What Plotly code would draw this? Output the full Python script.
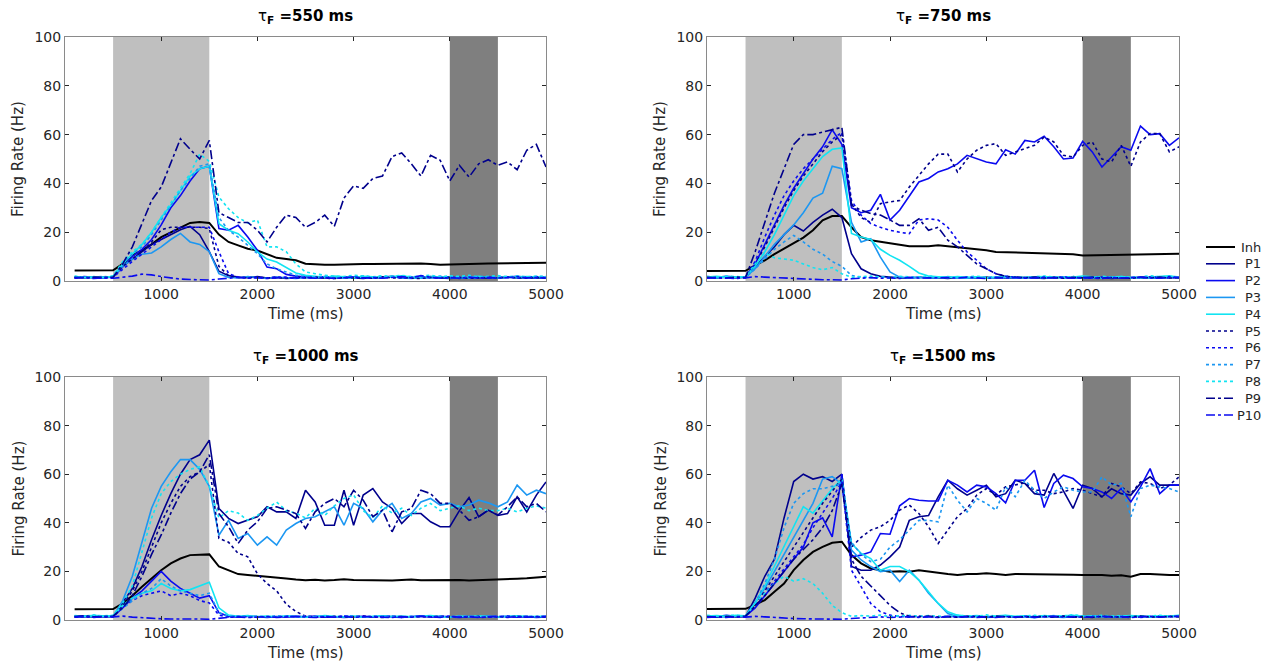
import plotly.graph_objects as go

# Time axis (ms): population rates binned every 100 ms
t = list(range(100, 5001, 100))

panel_titles = ["550", "750", "1000", "1500"]
series_names = ["Inh", "P1", "P2", "P3", "P4", "P5", "P6", "P7", "P8", "P9", "P10"]

# ---- tau_F = 550 ms ----
a_inh = [4.3,4.3,4.4,4.4,4.4, 7.0,10.5,12.5,15.0,18.0,20.0,22.0,23.8,24.2,23.8, 19.0,16.0,14.6,13.2,12.5,11.0,9.5,9.0,8.5,7.1, 6.8,6.7,6.7,6.9,6.8,7.0,7.0,7.1,7.2,7.3, 7.1,7.2,7.0,6.7,6.8,7.0,7.2,7.1,7.2,7.3,7.3,7.4,7.5,7.5,7.5]
a_p1 = [1.5,1.3,1.6,1.4,1.8, 6,9,12,15,17,19,21,22.4,19,12, 4,2.2,1.6,1.4,1.8, 1.2,1.5,1.0,1.3,1.6, 1.1,1.4,1.2,1.7,1.3, 1.0,1.5,1.2,1.8,1.4, 1.1,1.3,1.6,1.2,1.0, 1.4,1.2,1.5,1.1,1.3, 1.6,1.2,1.4,1.1,1.3]
a_p2 = [1.2,1.8,1.5,1.3,1.6, 6,10,13,17,23,30,35,41,46,47, 21.5,20.8,22.8,18,12.6, 5.7,5,2.7,2,1.6, 1.3,1.8,1.5,1.2,1.7, 1.4,1.1,1.6,1.9,1.3, 1.5,1.2,1.8,1.4,1.6, 1.1,1.5,1.3,1.7,1.2, 1.4,1.9,1.5,1.3,1.6]
a_p3 = [1.6,1.4,1.2,1.7,1.5, 6,9,11,11.5,14,17,19.5,16,15,12, 3,1.5,1.2,1.8,1.4, 1.1,1.6,1.3,1.0,1.5, 1.2,1.7,1.4,1.1,1.3, 1.6,1.2,1.5,1.8,1.3, 1.0,1.4,1.2,1.6,1.3, 1.5,1.1,1.4,1.7,1.2, 1.3,1.6,1.2,1.5,1.4]
a_p4 = [1.8,1.5,1.7,1.4,1.9, 7,11,15,20,26,31,37,43,46,47, 23.5,20.8,19.4,16,11.9, 9,7.8,5.7,3.3,2.3, 1.8,1.5,2.0,1.6,1.4, 1.9,1.7,1.5,1.8,2.1, 1.6,1.4,1.8,1.5,1.7, 1.3,1.6,1.9,1.5,1.4, 1.7,1.5,1.8,1.6,1.5]
a_p5 = [1.4,1.6,1.3,1.5,1.7, 6,9,12,16,21,22,22,22,22,21.5, 6,2.2,1.5,1.3,1.6, 1.2,1.4,1.1,1.5,1.3, 1.6,1.2,1.0,1.4,1.3, 1.5,1.1,1.7,1.2,1.4, 1.3,1.0,1.5,1.2,1.6, 1.4,1.1,1.3,1.5,1.2, 1.6,1.3,1.1,1.4,1.2]
a_p6 = [1.3,1.7,1.5,1.2,1.6, 5,8,11,14,17,20,22,22,22,22, 12,3,1.6,1.3,1.5, 1.2,1.7,1.4,1.1,1.5, 1.3,1.8,1.2,1.5,1.6, 1.1,1.4,1.3,1.7,1.2, 1.5,1.9,1.3,1.4,1.2, 1.6,1.3,1.5,1.1,1.4, 1.7,1.2,1.5,1.8,1.3]
a_p7 = [1.7,1.4,1.6,1.9,1.5, 7,11,14,19,25,31,37,42,47,48, 26,20.8,18,14.6,11.2, 7,5,3.7,2.3,1.8, 1.5,2.0,1.7,1.4,1.8, 2.1,1.6,1.5,1.9,1.7, 1.4,1.8,1.6,2.0,1.5, 1.7,1.4,1.9,1.6,1.5, 1.8,1.6,1.4,1.7,1.9]
a_p8 = [2.0,1.6,1.8,1.5,2.1, 8,12,15,20,26,32,38,44,52,49, 34.4,29.6,26,23.8,25, 14,14,12,7,3.7, 3,2.3,2.0,1.8,2.4, 2.1,1.7,2.2,1.9,2.3, 1.8,2.0,2.4,1.7,2.1, 1.9,2.3,1.6,2.0,2.2, 1.8,2.1,1.7,2.0,1.9]
a_p9 = [1.5,1.3,1.6,1.4,1.5, 7,14,23.5,33,38.5,48,58.3,54,50,57.6, 28,26,24,24,20.8, 16,22,27,26,22, 24,27,22.4,34,39, 38,42,43,51,52.5, 48,43,51.5,49.5,41, 47.4,42.6,48,49.7,47.4, 48.8,45.6,53.6,56,46.7]
a_p10 = [1.2,1.5,1.0,1.3,1.1, 1.5,2.0,2.8,2.5,1.8,1.2,0.8,0.6,0.5,0.4, 0.8,1.2,1.5,1.1,1.4, 1.0,1.3,1.6,1.2,1.5, 1.1,1.4,1.0,1.3,1.7, 1.2,1.5,1.1,1.4,1.8, 1.3,2.2,1.5,1.2,1.4, 1.1,1.6,1.3,1.5,1.2, 1.4,1.8,1.3,1.5,1.2]

# ---- tau_F = 750 ms ----
b_inh = [4.1,4.1,4.1,4.2,4.2, 6.4,8.5,11,13.3,15.3,17.8,20.8,24.9,26.6,26.6, 22,18,16.7,16,15.3, 14.6,14.2,14.2,14.2,14.6, 14.2,13.7,13.1,12.8,12.6, 11.9,11.8,11.7,11.6,11.6, 11.5,11.4,11.2,11.0,10.5, 10.6,10.6,10.7,10.7,10.8, 10.9,11.0,11.2,11.1,11.2]
b_p1 = [1.4,1.2,1.6,1.3,1.5, 6,10,14,19,22.8,20.5,24,27,29.4,26, 11.2,5,3,1.9,1.5, 1.3,1.1,1.6,1.2,1.4, 1.0,1.5,1.3,1.2,1.6, 1.1,1.4,1.2,1.5,1.3, 1.0,1.6,1.2,1.4,1.1, 1.3,1.5,1.0,1.4,1.2, 1.6,1.3,1.1,1.5,1.2]
b_p2 = [1.8,1.5,1.9,1.6,1.7, 7,15,23,31,38,44,50,55,62,56, 30,28,29,35.5,25, 29,35,40.6,42,44.7, 46,48,51.5,50,48.8, 48,53.8,52,57.6,57, 59.3,55,50,50.4,57.2, 52.9,46.7,50.8,55,53.6, 63.5,60,60.4,55.6,58.7]
b_p3 = [1.5,1.3,1.7,1.4,1.6, 5,10,15,19,23,28,34,36,47,46, 24,16,17.3,9.8,3.7, 1.6,1.3,1.5,1.2,1.4, 1.7,1.3,1.1,1.5,1.2, 1.4,1.6,1.2,1.3,1.5, 1.1,1.4,1.7,1.3,1.2, 1.5,1.3,1.6,1.4,1.2, 1.5,1.1,1.4,1.6,1.3]
b_p4 = [1.6,1.9,1.5,1.7,1.8, 6,12,19,27,35,41,46,51,54,54.5, 19.5,18,17,13,10.5, 8.5,6,3.3,2,1.6, 1.4,1.8,1.5,1.7,1.3, 1.6,1.9,1.5,1.4,1.7, 1.8,1.5,1.3,1.6,2.0, 1.7,1.4,1.6,1.8,1.5, 1.3,1.6,1.9,2.1,1.5]
b_p5 = [1.3,1.6,1.2,1.5,1.4, 7,14,22,30,37,43,48,53,57,60, 31.7,26,24,31.7,32.4, 33,38.5,43.3,48,52, 52,44.7,50,53.6,55.6, 56.3,51.5,52.9,54.2,55.6, 59,57,51.5,50.8,55.6, 57,50,48.8,55.6,47, 57,60.4,60.4,52.9,55]
b_p6 = [1.2,1.5,1.7,1.3,1.6, 8,18,27,35,41,46,50,54,58,61, 33,27,23.5,22,20.8, 20,19.4,25,25.5,25, 22,16.7,11.9,8.5,5, 3,2,1.6,1.3,1.5, 1.2,1.4,1.7,1.3,1.5, 1.1,1.6,1.4,1.2,1.5, 1.3,1.7,1.4,1.2,1.6]
b_p7 = [1.6,1.4,1.8,1.5,1.3, 5,9,13,16,18.7,16,13,11,8,6, 2.3,1.6,1.4,1.8,1.2, 1.5,1.3,1.7,1.4,1.2, 1.6,1.3,1.5,1.1,1.4, 1.7,1.2,1.5,1.3,1.6, 1.4,1.2,1.5,1.8,1.3, 1.4,1.6,1.2,1.5,1.3, 1.7,1.4,1.2,1.5,1.6]
b_p8 = [1.8,1.5,2.0,1.7,1.6, 7,11.5,9.5,9,8.5,7,5.5,4.6,5.5,3, 1.5,1.8,2.0,1.6,1.4, 1.9,1.7,1.5,2.1,1.6, 1.8,1.4,1.7,2.0,1.5, 1.6,1.9,1.7,1.4,1.8, 2.0,1.6,1.5,1.8,1.7, 1.4,1.9,1.6,1.8,1.5, 1.7,2.2,1.6,1.9,1.7]
b_p9 = [1.5,1.3,1.2,1.6,1.4, 12,24,36,46,56,60,60,61,62,63, 31,29,27.6,27,25, 22.8,22.8,25.5,20.8,22, 16.7,14,10.5,7,5, 3,1.9,1.5,1.3,1.6, 1.2,1.4,1.1,1.5,1.3, 1.6,1.2,1.4,1.3,1.1, 1.5,1.3,1.6,1.2,1.4]
b_p10 = [1.1,1.4,1.2,1.0,1.3, 1.8,1.6,1.4,1.1,0.9,0.7,0.6,0.5,0.5,0.4, 0.9,1.2,1.4,1.1,1.3, 1.0,1.5,1.2,1.3,1.1, 1.4,1.2,1.6,1.3,1.0, 1.5,1.2,1.4,1.1,1.3, 1.6,1.2,1.5,1.1,1.4, 1.3,1.0,1.5,1.2,1.4, 1.6,1.3,1.1,1.8,1.4]

# ---- tau_F = 1000 ms ----
c_inh = [4.4,4.4,4.4,4.5,4.5, 6.8,10,13.7,17,20.5,23.3,25.3,26.7,27,27, 22,20.5,18.9,18.5,18.2, 18.0,17.5,17.1,16.7,16.4, 16.6,16.3,16.5,16.8,16.5, 16.4,16.6,16.4,16.3,16.5, 16.7,16.4,16.5,16.3,16.4, 16.5,16.3,16.4,16.6,16.5, 16.8,17.0,17.2,17.5,17.8]
c_p1 = [1.3,1.6,1.2,1.5,1.4, 7,13,22,33,43,52,60,66,68,74, 45.9,41.8,39.7,41,42.5, 46.6,44.5,44.5,41.8,53.4, 48.6,39,39,53.4,39, 51.4,54.1,48.6,45.9,39.7, 43.8,43.8,40.4,38.4,38.4, 45,50.4,42.5,45.2,43, 43.8,50.7,44.5,51.4,56.8]
c_p2 = [1.6,1.3,1.8,1.4,1.5, 5,9,12,16,20,16,13,11,9,10, 3,1.5,1.2,1.6,1.3, 1.1,1.4,1.2,1.5,1.3, 1.6,1.2,1.4,1.0,1.3, 1.5,1.2,1.7,1.3,1.1, 1.4,1.6,1.2,1.5,1.3, 1.1,1.4,1.2,1.6,1.3, 1.5,1.2,1.4,1.1,1.3]
c_p3 = [1.5,1.7,1.3,1.6,1.4, 8,18,32,46,55,61,66,66,62,55, 34.9,41,33.6,35.6,30.8, 34.2,30.8,37,39.7,41.8, 42.5,44.5,46.6,39,48, 45.9,40.4,45.2,48,41.8, 43.8,48.6,50,47.3,48, 46.6,47.3,49.3,48.2,46.6, 48.6,55.5,51.4,53.4,52]
c_p4 = [1.7,1.5,1.9,1.6,1.8, 6,9,11,12,15,13,12,12.5,14,15.5, 5,2,1.5,1.8,1.4, 1.6,1.3,1.7,1.5,1.2, 1.4,1.8,1.5,1.3,1.6, 1.2,1.5,1.7,1.4,1.6, 1.3,1.5,1.8,1.4,1.2, 1.6,1.4,1.7,1.5,1.3, 1.5,1.7,1.4,1.6,1.5]
c_p5 = [1.4,1.2,1.6,1.3,1.5, 6,12,20,30,40,48,55,59,61,64, 33.6,32,27.4,26,19, 15,12,6.5,3.5,1.6, 1.3,1.1,1.5,1.2,1.4, 1.6,1.2,1.0,1.4,1.3, 1.5,1.1,1.3,1.6,1.2, 1.4,1.2,1.5,1.1,1.3, 1.2,1.6,1.3,1.4,1.2]
c_p6 = [1.2,1.5,1.3,1.7,1.4, 5,8,10,11,12,10,11,10,8,7, 2,1.2,1.5,1.3,1.1, 1.4,1.2,1.6,1.3,1.5, 1.1,1.4,1.2,1.7,1.3, 1.5,1.2,1.4,1.6,1.1, 1.3,1.5,1.2,1.4,1.6, 1.2,1.5,1.3,1.1,1.4, 1.6,1.2,1.5,1.3,1.4]
c_p7 = [1.6,1.4,1.8,1.5,1.7, 5,8,11,13,17,14,12,11,10,11, 3,1.5,1.7,1.4,1.6, 1.3,1.8,1.5,1.2,1.6, 1.4,1.7,1.3,1.5,1.8, 1.2,1.6,1.4,1.7,1.3, 1.5,1.8,1.4,1.6,1.3, 1.7,1.5,1.2,1.6,1.4, 1.3,1.7,1.5,1.4,1.6]
c_p8 = [1.8,1.6,2.0,1.7,1.9, 7,14,28,42,52,57,60,62,63,55, 42,45,44,41,43, 46,48.5,45,44,42, 46,43,47,50,51.5, 45,42,47,44,46, 43,46,48,45,46, 47,45,46,45,45, 46,44.5,46,47,46]
c_p9 = [1.4,1.7,1.3,1.5,1.6, 5,10,18,27,35,44,52,58,61,68, 43.8,38.4,31.5,37,40.4, 45.9,46.6,45.2,43.8,37.7, 44.5,48,50,46.6,53.4, 49.3,42.5,45.2,36.3,44.5, 45.9,53.4,52,48,48, 45.2,41,42.5,45.2,43.2, 46.6,50.7,46.6,48,44.5]
c_p10 = [1.2,1.5,1.1,1.4,1.3, 1.6,1.2,0.9,0.6,0.5,0.4,0.5,0.3,0.4,0.3, 0.8,1.1,1.3,1.0,1.2, 1.4,1.1,1.3,1.5,1.2, 1.0,1.4,1.2,1.6,1.1, 1.3,1.5,1.2,1.0,1.4, 1.2,1.6,1.3,1.1,1.5, 1.2,1.4,1.0,1.3,1.5, 1.1,1.4,1.2,1.3,1.5]

# ---- tau_F = 1500 ms ----
d_inh = [4.5,4.5,4.5,4.6,4.6, 6.2,8.2,11.6,15,20.5,24.7,28,30.1,31.8,32.2, 26.7,23.3,21.2,20.5,19.9, 20.1,19.9,20.5,19.9,19.2, 18.9,18.5,18.9,18.9,19.2, 18.9,18.5,18.9,18.9,18.8, 18.6,18.9,18.9,18.6,18.5, 18.6,18.5,18.2,18.4,17.8, 18.9,18.9,18.6,18.5,18.5]
d_p1 = [1.5,1.2,1.6,1.3,1.4, 9,18,25,42,57,60,58,59,57,60, 22,20.5,20.5,22.6,26, 30,41,42.5,43,50.7, 57.5,54,51.4,53.4,55.5, 50.7,52,57.5,56.2,52, 51.4,60.3,53.4,45.9,55.5, 54.1,50.7,54,52,51.4, 56.2,58.9,55.5,55.5,55.5]
d_p2 = [1.7,1.4,1.9,1.5,1.6, 5,10,15,20,25,30,40,42,34.2,60, 26,26.7,28,35.6,35.3, 47,50,49.3,49,49, 57.5,55.5,52.7,55.5,54.8, 52,48.2,57.5,57.5,61.6, 46.3,56.2,59.6,58.2,54.8, 54.1,52.7,50,54.1,48.6, 54.8,62.3,52,55.5,55.5]
d_p3 = [1.4,1.6,1.3,1.7,1.5, 7,13,20,27,34,41,48,58,59,56, 28.8,24.7,22,19.9,20.5, 15.8,20.5,16.4,11,6.8, 2.7,1.4,1.2,1.5,1.1, 1.3,1.6,1.2,1.4,1.0, 1.5,1.3,1.1,1.4,1.6, 1.2,1.3,1.5,1.1,1.4, 1.6,1.2,1.4,1.3,1.5]
d_p4 = [1.6,1.8,1.5,1.9,1.7, 7,14,22,30,38,46.6,44,49,54,58, 31.5,27.4,25.3,20.5,22, 22,19.9,16.4,11.6,6.8, 3.4,2,1.5,1.8,1.4, 1.6,1.9,1.5,1.7,1.3, 1.8,1.5,1.6,1.9,1.4, 1.7,1.5,1.3,1.6,1.8, 1.5,1.4,1.7,1.6,1.9]
d_p5 = [1.3,1.5,1.2,1.6,1.4, 6,12,18,24,30,36,42,48,53,58, 30,34,37,38.4,41, 45.2,47.3,43.8,38.4,31.5, 37,42.5,45.9,51.4,54.1, 51.4,54.8,55.5,56.4,53.4, 53.4,52,52.7,54.1,53.4, 52,50.7,56.2,54.8,52, 56.8,56.2,54.1,55.5,58.9]
d_p6 = [1.2,1.6,1.4,1.3,1.7, 6,11,16,21,26,31,38,44,50,57, 20.5,13.7,6.8,3.4,2, 1.4,1.2,1.6,1.3,1.1, 1.5,1.2,1.4,1.7,1.3, 1.1,1.5,1.3,1.2,1.6, 1.4,1.1,1.5,1.3,1.2, 1.6,1.4,1.2,1.5,1.3, 1.1,1.4,1.6,1.3,1.5]
d_p7 = [1.5,1.8,1.4,1.6,1.7, 7,15,25,38,48,52,54,54,55,56, 32,27,24,25,30, 33,37,41,41,40.4, 55.5,49.3,44.5,50,48, 45.2,54.8,50.7,57.5,53.4, 50,52.7,54.8,53.4,52.7, 52.7,58.9,55.5,56.2,42.5, 54.1,55.5,54.8,54.1,52.7]
d_p8 = [1.9,1.6,1.8,2.0,1.7, 7,11,15,18,16,17,15,11,6,3, 1.5,1.8,1.6,2.0,1.4, 1.7,1.9,1.5,1.8,1.6, 1.4,1.9,1.7,1.5,2.1, 1.6,1.8,1.4,1.7,1.9, 1.5,1.8,1.6,2.2,1.7, 1.5,1.9,1.6,1.8,1.4, 1.7,1.6,1.9,1.5,1.8]
d_p9 = [1.4,1.2,1.5,1.3,1.6, 6,10,15,20,25,29,33,38,45,56, 25,18,14,10,6, 3,1.5,1.3,1.6,1.2, 1.4,1.1,1.5,1.3,1.2, 1.6,1.3,1.1,1.4,1.2, 1.5,1.3,1.6,1.2,1.4, 1.1,1.5,1.3,1.2,1.4, 1.6,1.3,1.2,1.5,1.3]
d_p10 = [1.1,1.3,1.0,1.4,1.2, 1.5,1.3,1.0,0.8,0.6,0.5,0.4,0.3,0.4,0.3, 0.6,0.9,1.1,1.3,1.0, 1.2,1.4,1.1,1.3,1.0, 1.5,1.2,1.4,1.1,1.3, 1.0,1.4,1.2,1.5,1.1, 1.3,1.6,1.2,1.4,1.1, 1.3,1.5,1.2,1.4,1.0, 1.3,1.5,1.2,1.4,1.6]

panels = [
    [a_inh, a_p1, a_p2, a_p3, a_p4, a_p5, a_p6, a_p7, a_p8, a_p9, a_p10],
    [b_inh, b_p1, b_p2, b_p3, b_p4, b_p5, b_p6, b_p7, b_p8, b_p9, b_p10],
    [c_inh, c_p1, c_p2, c_p3, c_p4, c_p5, c_p6, c_p7, c_p8, c_p9, c_p10],
    [d_inh, d_p1, d_p2, d_p3, d_p4, d_p5, d_p6, d_p7, d_p8, d_p9, d_p10],
]

# Line styles per population
NAVY, BLUE, SKY, CYAN = "#00008C", "#0A0AF0", "#1C97F2", "#12E4F2"
styles = [
    ("#000000", "solid", 2.0),
    (NAVY, "solid", 1.6), (BLUE, "solid", 1.6), (SKY, "solid", 1.6), (CYAN, "solid", 1.6),
    (NAVY, "dot", 1.6), (BLUE, "dot", 1.6), (SKY, "dot", 1.6), (CYAN, "dot", 1.6),
    (NAVY, "dashdot", 1.6), (BLUE, "dashdot", 1.6),
]

W, H = 1274, 665
# axes boxes in pixels: (left, right, top, bottom)
boxes = [(65, 546, 37, 281), (707, 1179, 37, 281), (65, 546, 377, 620), (707, 1179, 377, 620)]
xranges = [[0, 5000], [100, 5000], [0, 5000], [100, 5000]]

FONT = "DejaVu Sans"
TXT = "#262626"

fig = go.Figure()
layout = dict(
    width=W, height=H, margin=dict(l=0, r=0, t=0, b=0, autoexpand=False),
    paper_bgcolor="white", plot_bgcolor="white",
    font=dict(family=FONT, size=14, color=TXT),
    showlegend=False,
    shapes=[], annotations=[],
)

for k, (l, r, tp, bt) in enumerate(boxes):
    sfx = "" if k == 0 else str(k + 1)
    xa, ya = "xaxis" + sfx, "yaxis" + sfx
    xr, yr = "x" + sfx, "y" + sfx
    layout[xa] = dict(domain=[l / W, r / W], anchor=yr, range=xranges[k],
                      tickvals=[1000, 2000, 3000, 4000, 5000], ticks="inside", ticklen=4,
                      tickcolor=TXT, showline=True, linecolor="#8a8a8a", linewidth=1,
                      mirror="ticks", showgrid=False, zeroline=False, automargin=False,
                      tickfont=dict(family=FONT, size=14, color=TXT))
    layout[ya] = dict(domain=[1 - bt / H, 1 - tp / H], anchor=xr, range=[0, 100],
                      tickvals=[0, 20, 40, 60, 80, 100], ticks="inside", ticklen=4,
                      tickcolor=TXT, showline=True, linecolor="#8a8a8a", linewidth=1,
                      mirror="ticks", showgrid=False, zeroline=False, automargin=False,
                      tickfont=dict(family=FONT, size=14, color=TXT))
    # stimulus and probe windows
    layout["shapes"].append(dict(type="rect", xref=xr, yref=yr, x0=500, x1=1500, y0=0, y1=100,
                                 fillcolor="#BFBFBF", line=dict(width=0), layer="below"))
    layout["shapes"].append(dict(type="rect", xref=xr, yref=yr, x0=4000, x1=4500, y0=0, y1=100,
                                 fillcolor="#7F7F7F", line=dict(width=0), layer="below"))
    cx = (l + r) / 2
    layout["annotations"].append(dict(
        text="τ<sub><b>F</b></sub><b> =" + panel_titles[k] + " ms</b>",
        x=cx / W, y=1 - (tp - 21) / H, xref="paper", yref="paper",
        xanchor="center", yanchor="middle", showarrow=False,
        font=dict(family=FONT, size=15, color="#000000")))
    layout["annotations"].append(dict(
        text="Time (ms)", x=cx / W, y=1 - (bt + 33) / H, xref="paper", yref="paper",
        xanchor="center", yanchor="middle", showarrow=False,
        font=dict(family=FONT, size=15, color=TXT)))
    layout["annotations"].append(dict(
        text="Firing Rate (Hz)", x=(l - 47) / W, y=1 - (tp + bt) / 2 / H,
        xref="paper", yref="paper", xanchor="center", yanchor="middle",
        textangle=-90, showarrow=False, font=dict(family=FONT, size=15, color=TXT)))

    for j, ys in enumerate(panels[k]):
        color, dash, width = styles[j]
        fig.add_trace(go.Scatter(
            x=t, y=ys, mode="lines", name=series_names[j], legendgroup=series_names[j],
            showlegend=False, xaxis=xr, yaxis=yr,
            line=dict(color=color, dash=dash, width=width)))

# Compact key on the right: line sample + right-aligned population name
KEY_X0, KEY_X1, KEY_TXT_R, KEY_Y0, KEY_STEP = 1206, 1235, 1263, 247, 16.8
for j, name in enumerate(series_names):
    color, dash, width = styles[j]
    yy = 1 - (KEY_Y0 + j * KEY_STEP) / H
    layout["shapes"].append(dict(type="line", xref="paper", yref="paper",
                                 x0=KEY_X0 / W, x1=KEY_X1 / W, y0=yy, y1=yy,
                                 line=dict(color=color, dash=dash, width=width)))
    layout["annotations"].append(dict(
        text=name, x=KEY_TXT_R / W, y=yy, xref="paper", yref="paper",
        xanchor="right", yanchor="middle", showarrow=False,
        font=dict(family=FONT, size=13, color=TXT)))

fig.update_layout(**layout)
fig.write_html("out.html")
